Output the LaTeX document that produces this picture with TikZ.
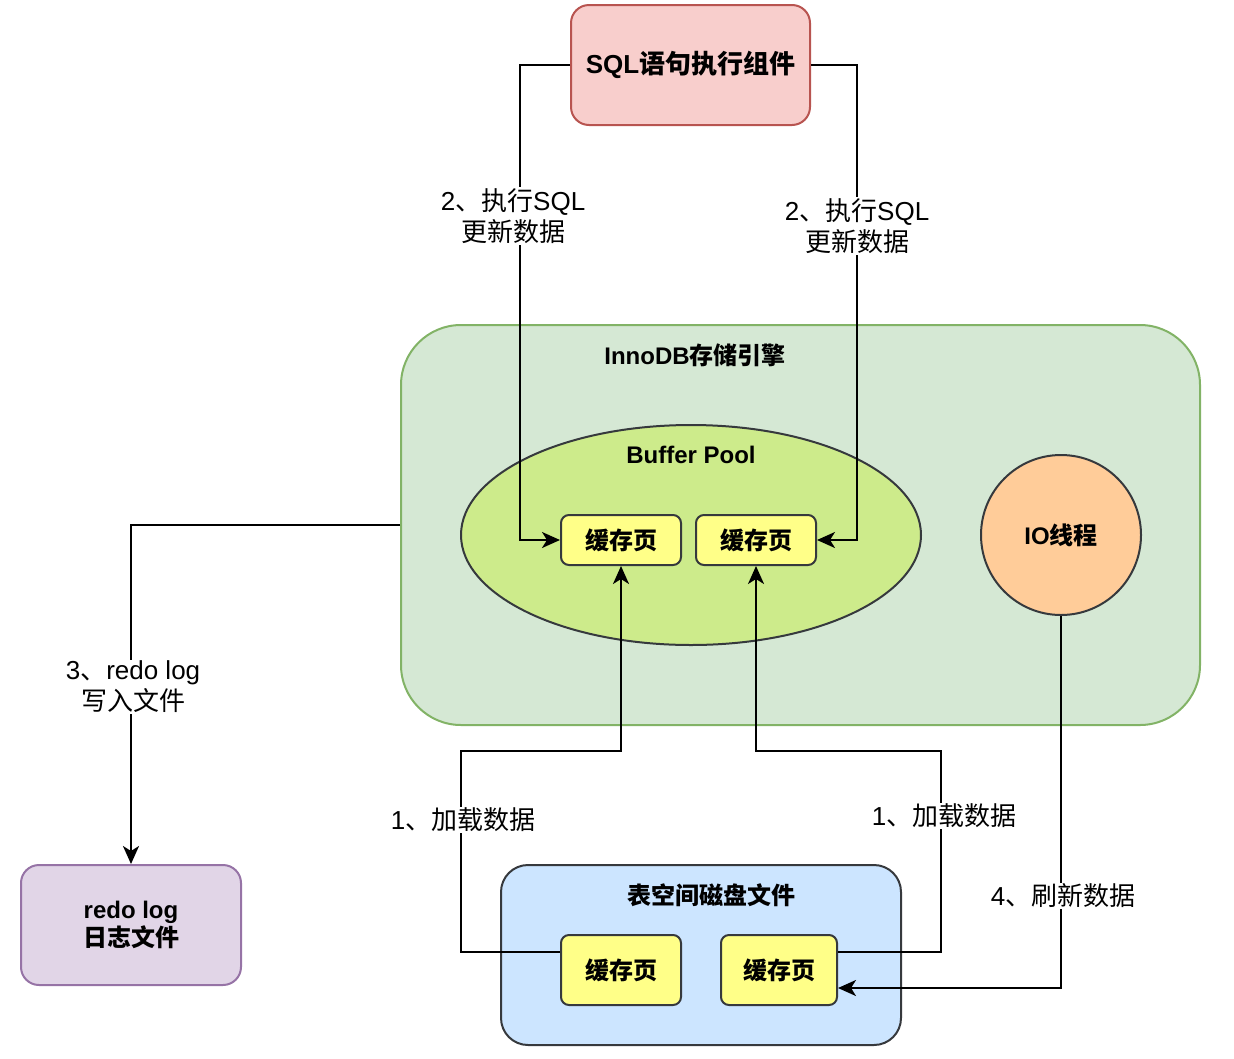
\documentclass[tikz,border=0pt]{standalone}
\usepackage{fontspec}
\setmainfont{Liberation Sans}
\newfontfamily\cjkf{Noto Sans CJK SC}
\newcommand\zh[1]{{\cjkf #1}}
\newcommand\fsA{\fontsize{26}{31}\selectfont}
\newcommand\fsB{\fontsize{24}{28.5}\selectfont}
\usetikzlibrary{arrows.meta,calc,shapes.geometric}
\definecolor{sqlfill}{HTML}{F8CECC}
\definecolor{sqlline}{HTML}{B85450}
\definecolor{grnfill}{HTML}{D5E8D4}
\definecolor{grnline}{HTML}{82B366}
\definecolor{bpfill}{HTML}{CDEB8B}
\definecolor{dark}{HTML}{36393D}
\definecolor{yel}{HTML}{FFFF88}
\definecolor{iofill}{HTML}{FFCC99}
\definecolor{redofill}{HTML}{E1D5E7}
\definecolor{redoline}{HTML}{9673A6}
\definecolor{diskfill}{HTML}{CCE5FF}
\begin{document}
\begin{tikzpicture}[x=1pt,y=-1pt,
  shapebox/.style={draw, line width=2pt, inner sep=0pt, align=center},
  pagebox/.style={shapebox, fill=yel, draw=dark, rounded corners=8pt, font=\fsB\bfseries},
  ttl/.style={inner sep=0pt, align=center, font=\fsB\bfseries},
  arr/.style={line width=2.2pt, -{Stealth[length=18pt,width=16pt,inset=5pt]}},
  lab/.style={fill=white, inner sep=1pt, align=center, font=\fsA}]
\useasboundingbox (0,0) rectangle (1234,1058);

% containers
\node[shapebox, fill=grnfill, draw=grnline, rounded corners=60pt,
      minimum width=799pt, minimum height=400pt] (innodb) at (800.5,525) {};
\node[ttl] (innodbt) at (695,355) {InnoDB\zh{存储引擎}};

\node[shapebox, ellipse, fill=bpfill, draw=dark,
      minimum width=460pt, minimum height=220pt] (bp) at (691,535) {};
\node[ttl] (bpt) at (691,455) {Buffer Pool};
\node[pagebox, minimum width=120pt, minimum height=50pt] (bp1) at (621,540) {\zh{缓存页}};
\node[pagebox, minimum width=120pt, minimum height=50pt] (bp2) at (756,540) {\zh{缓存页}};

\node[shapebox, circle, fill=iofill, draw=dark, minimum size=160pt,
      font=\fsB\bfseries] (io) at (1061,535) {IO\zh{线程}};

\node[shapebox, fill=sqlfill, draw=sqlline, rounded corners=18pt,
      minimum width=239pt, minimum height=120pt, font=\fsA\bfseries] (sql) at (690.5,65) {SQL\zh{语句执行组件}};

\node[shapebox, fill=redofill, draw=redoline, rounded corners=18pt,
      minimum width=220pt, minimum height=120pt, font=\fsB\bfseries] (redo) at (131,925) {redo log\\\zh{日志文件}};

\node[shapebox, fill=diskfill, draw=dark, rounded corners=27pt,
      minimum width=400pt, minimum height=180pt] (disk) at (701,955) {};
\node[ttl] (diskt) at (711,895) {\zh{表空间磁盘文件}};
\node[pagebox, minimum width=120pt, minimum height=70pt] (d1) at (621,970) {\zh{缓存页}};
\node[pagebox, minimum width=116pt, minimum height=70pt] (d2) at (779,970) {\zh{缓存页}};

% connectors
\coordinate (d1out) at ($(d1.north west)!0.25!(d1.south west)$);
\coordinate (d2out) at ($(d2.north east)!0.25!(d2.south east)$);
\coordinate (d2in)  at ($(d2.north east)!0.75!(d2.south east)$);

\draw[arr] (sql.west) -| ([xshift=-40pt]bp1.west) -- (bp1.west);
\draw[arr] (sql.east) -| ([xshift=40pt]bp2.east) -- (bp2.east);
\draw[arr] (innodb.west) -| (redo.north);
\draw[arr] (d1out) -| (461,751) -| (bp1.south);
\draw[arr] (d2out) -| (941,751) -| (bp2.south);
\draw[arr] (io.south) |- (d2in);

% labels
\node[lab] (l2a) at (513,216) {2\zh{、执行}SQL\\\zh{更新数据}};
\node[lab] (l2b) at (857,226) {2\zh{、执行}SQL\\\zh{更新数据}};
\node[lab] (l3)  at (133,687) {3\zh{、}redo log\\\zh{写入文件}};
\node[lab] (l1a) at (463,820) {1\zh{、加载数据}};
\node[lab] (l1b) at (944,816) {1\zh{、加载数据}};
\node[lab] (l4)  at (1063,896) {4\zh{、刷新数据}};
\end{tikzpicture}
\end{document}
